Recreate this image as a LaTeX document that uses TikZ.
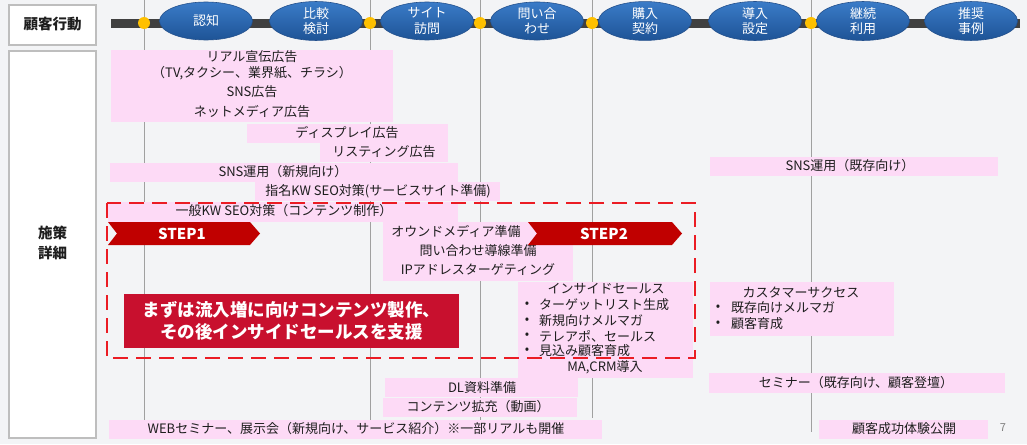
\documentclass[tikz,border=0pt]{standalone}
\usepackage{fontspec}
\setmainfont{Noto Sans CJK JP}
\usetikzlibrary{shapes.geometric}
\definecolor{bgc}{RGB}{243,244,246}
\definecolor{pinkc}{RGB}{253,218,246}
\definecolor{gridc}{RGB}{160,160,160}
\definecolor{barc}{RGB}{64,64,64}
\definecolor{dotc}{RGB}{255,192,0}
\definecolor{ellTop}{RGB}{58,123,200}
\definecolor{ellBot}{RGB}{30,84,150}
\definecolor{ellEdge}{RGB}{35,80,140}
\definecolor{stepc}{RGB}{192,0,0}
\definecolor{dashc}{RGB}{235,28,36}
\definecolor{msgc}{RGB}{200,16,46}
\definecolor{boxc}{RGB}{190,190,190}
\definecolor{txtc}{RGB}{30,30,30}
\tikzset{
  lbl/.style={font=\fontsize{13}{15}\selectfont, text=txtc, inner sep=0pt, align=center},
  pinkrect/.style={fill=pinkc, draw=none},
  grid/.style={draw=gridc, line width=1pt},
  stage/.style={ellipse, minimum width=93pt, minimum height=38pt, inner sep=0pt,
    top color=ellTop, bottom color=ellBot, draw=ellEdge, line width=0.6pt, text=white, align=center,
    font=\fontsize{13}{15.5}\selectfont},
  ydot/.style={circle, fill=dotc, minimum size=12pt, inner sep=0pt},
  sidebox/.style={draw=boxc, line width=2pt, fill=white},
  steparrow/.style={fill=stepc, draw=none},
  steptext/.style={text=white, font=\fontsize{15}{17}\selectfont\bfseries, inner sep=0pt},
  bul/.style={lbl, anchor=west},
}
\begin{document}
\begin{tikzpicture}[x=1pt,y=-1pt]
\useasboundingbox (0,0) rectangle (1027,444);
\fill[bgc] (0,0) rectangle (1027,444);
% side boxes
\draw[sidebox] (9,5) rectangle (96,45);
\node[font=\fontsize{14.5}{17}\selectfont\bfseries, text=txtc] (lab1) at (52.5,24) {顧客行動};
\draw[sidebox] (9,51) rectangle (96,438);
\node[font=\fontsize{14.5}{20}\selectfont\bfseries, text=txtc, align=center] (lab2) at (52.5,243) {施策\\詳細};
% grid lines
\draw[grid] (144,0) -- (144,420);
\draw[grid] (370,0) -- (370,421);
\draw[grid] (480,0) -- (480,420);
\draw[grid] (592,0) -- (592,418);
\draw[grid] (811,0) -- (811,432);
% timeline
\coordinate (tl0) at (111,23.5);
\coordinate (tl1) at (1020,23.5);
\draw[barc, line width=9pt] (tl0) -- (tl1);
\foreach \x/\n in {144/d1,370/d2,480/d3,592/d4,811/d5}{\node[ydot] (\n) at (\x,23) {};}
\node[stage] (s1) at (206,21) {認知};
\node[stage] (s2) at (316,21) {比較\\検討};
\node[stage] (s3) at (427,21) {サイト\\訪問};
\node[stage] (s4) at (537,21) {問い合\\わせ};
\node[stage] (s5) at (645,21) {購入\\契約};
\node[stage] (s6) at (755,21) {導入\\設定};
\node[stage] (s7) at (863,21) {継続\\利用};
\node[stage] (s8) at (971,21) {推奨\\事例};
% pink bars
\fill[pinkrect] (111,50) rectangle (393,122);
\node[lbl] (t1) at (252,57) {リアル宣伝広告};
\node[lbl] (t2) at (252,73) {（TV,タクシー、業界紙、チラシ）};
\node[lbl] (t3) at (252,92) {SNS広告};
\node[lbl] (t4) at (252,112) {ネットメディア広告};
\fill[pinkrect] (247,124) rectangle (448,143);
\node[lbl] (t5) at (347,133) {ディスプレイ広告};
\fill[pinkrect] (320,143) rectangle (448,162);
\node[lbl] (t6) at (384,152) {リスティング広告};
\fill[pinkrect] (110,163) rectangle (458,182);
\node[lbl] (t7) at (283,172) {SNS運用（新規向け）};
\fill[pinkrect] (255,182) rectangle (500,201);
\node[lbl] (t8) at (378,191) {指名KW SEO対策(サービスサイト準備)};
\fill[pinkrect] (108,202) rectangle (458,222);
\node[lbl] (t9) at (284,211) {一般KW SEO対策（コンテンツ制作）};
\fill[pinkrect] (383,222) rectangle (573,281);
\node[lbl] (t10) at (456,231.5) {オウンドメディア準備};
\node[lbl] (t11) at (478,251) {問い合わせ導線準備};
\node[lbl] (t12) at (478,270) {IPアドレスターゲティング};
\fill[pinkrect] (518,282) rectangle (693,378);
\node[lbl] (t13) at (606,289) {インサイドセールス};
\foreach \yy/\tt/\n in {305/ターゲットリスト生成/b1,320.5/新規向けメルマガ/b2,336/テレアポ、セールス/b3,351/見込み顧客育成/b4}{
  \node[lbl] (\n d) at (527,\yy) {•};
  \node[bul] (\n) at (539,\yy) {\tt};
}
\node[lbl] (t14) at (605,367) {MA,CRM導入};
\fill[pinkrect] (385,378) rectangle (578,397);
\node[lbl] (t15) at (482,388) {DL資料準備};
\fill[pinkrect] (383,398) rectangle (577,417);
\node[lbl] (t16) at (478,407) {コンテンツ拡充（動画）};
\fill[pinkrect] (109,420) rectangle (602,439);
\node[lbl] (t17) at (356,429) {WEBセミナー、展示会（新規向け、サービス紹介）※一部リアルも開催};
\fill[pinkrect] (710,157) rectangle (998,176);
\node[lbl] (t18) at (850,166) {SNS運用（既存向け）};
\fill[pinkrect] (710,282) rectangle (894,336);
\node[lbl] (t19) at (801,292.5) {カスタマーサクセス};
\node[lbl] (c1d) at (718,308) {•};
\node[bul] (c1) at (731,308) {既存向けメルマガ};
\node[lbl] (c2d) at (718,324) {•};
\node[bul] (c2) at (731,324) {顧客育成};
\fill[pinkrect] (709,373) rectangle (1005,393);
\node[lbl] (t20) at (856,383) {セミナー（既存向け、顧客登壇）};
\fill[pinkrect] (819,420) rectangle (988,439);
\node[lbl] (t21) at (904,429) {顧客成功体験公開};
\node[font=\fontsize{11}{13}\selectfont, text=gray] (pg) at (1003,428) {7};
% step arrows
\fill[steparrow] (108,222) -- (250,222) -- (260,233.5) -- (250,245) -- (108,245) -- (117,233.5) -- cycle;
\node[steptext] (st1) at (182,233.5) {STEP1};
\fill[steparrow] (528,222) -- (672,222) -- (682,233.5) -- (672,245) -- (528,245) -- (537,233.5) -- cycle;
\node[steptext] (st2) at (604,233.5) {STEP2};
% dashed frame
\draw[dashc, line width=2.3pt, dash pattern=on 15pt off 8pt] (107,203) rectangle (695,358);
% message box
\fill[msgc] (124,294) rectangle (459,348);
\node[text=white, font=\fontsize{17.5}{22}\selectfont\bfseries, align=center, inner sep=0pt] (msg) at (291.5,321) {まずは流入増に向けコンテンツ製作、\\その後インサイドセールスを支援};
\end{tikzpicture}
\end{document}
